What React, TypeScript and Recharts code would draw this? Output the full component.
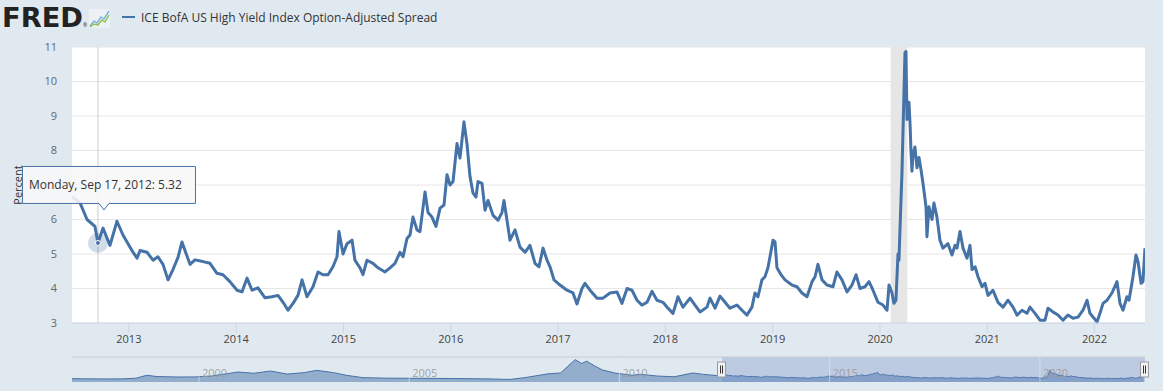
import React from 'react';
import {
  LineChart,
  Line,
  AreaChart,
  Area,
  XAxis,
  YAxis,
  CartesianGrid,
  ReferenceArea,
  ReferenceLine,
  ReferenceDot,
} from 'recharts';

const BLUE = '#4572a7';
const FONT = '"Open Sans", sans-serif';

const seriesName = 'ICE BofA US High Yield Index Option-Adjusted Spread';
const yearTicks = [2013, 2014, 2015, 2016, 2017, 2018, 2019, 2020, 2021, 2022];
const percentTicks = [3, 4, 5, 6, 7, 8, 9, 10, 11];
const navLabels = [2000, 2005, 2010, 2015, 2020];

// visible window (decimal years)
const viewStart = 2012.47;
const viewEnd = 2022.47;
const recessionStart = 2020.1;
const recessionEnd = 2020.255;

// hovered point (its tooltip hides the "7" tick label)
const hoverYear = 2012.712;
const hoverValue = 5.32;
const hoverLabel = 'Monday, Sep 17, 2012';
const coveredTick = 7;

// spread, percent, decimal years
const mainYears = [
  2012.47, 2012.545, 2012.61, 2012.684, 2012.712, 2012.759, 2012.824, 2012.889, 2012.945, 2012.992,
  2013.029, 2013.076, 2013.104, 2013.169, 2013.225, 2013.271, 2013.318, 2013.365, 2013.411, 2013.458,
  2013.495, 2013.523, 2013.57, 2013.616, 2013.691, 2013.756, 2013.821, 2013.877, 2013.942,
  2014.008, 2014.054, 2014.101, 2014.148, 2014.203, 2014.269, 2014.334, 2014.39, 2014.437, 2014.483,
  2014.53, 2014.576, 2014.614, 2014.66, 2014.716, 2014.763, 2014.809, 2014.856, 2014.902, 2014.94,
  2014.958, 2014.996,
  2015.033, 2015.08, 2015.107, 2015.154, 2015.182, 2015.219, 2015.275, 2015.322, 2015.387, 2015.434,
  2015.48, 2015.527, 2015.555, 2015.592, 2015.62, 2015.648, 2015.685, 2015.713, 2015.76, 2015.788,
  2015.825, 2015.862, 2015.9, 2015.937, 2015.965, 2015.993,
  2016.021, 2016.058, 2016.086, 2016.123, 2016.151, 2016.179, 2016.207, 2016.235, 2016.254, 2016.291,
  2016.319, 2016.347, 2016.394, 2016.44, 2016.477, 2016.496, 2016.524, 2016.552, 2016.599, 2016.645,
  2016.692, 2016.738, 2016.785, 2016.822, 2016.86, 2016.897, 2016.925, 2016.962,
  2017.018, 2017.083, 2017.139, 2017.176, 2017.223, 2017.251, 2017.298, 2017.363, 2017.419, 2017.484,
  2017.549, 2017.596, 2017.643, 2017.689, 2017.736, 2017.782, 2017.829, 2017.875, 2017.922, 2017.978,
  2018.024, 2018.071, 2018.118, 2018.164, 2018.23, 2018.276, 2018.323, 2018.388, 2018.416, 2018.463,
  2018.509, 2018.556, 2018.602, 2018.667, 2018.714, 2018.761, 2018.807, 2018.835, 2018.863, 2018.9,
  2018.928, 2018.956, 2018.975,
  2019.003, 2019.022, 2019.04, 2019.078, 2019.115, 2019.18, 2019.227, 2019.273, 2019.32, 2019.367,
  2019.395, 2019.422, 2019.46, 2019.506, 2019.562, 2019.599, 2019.646, 2019.693, 2019.739, 2019.777,
  2019.814, 2019.86, 2019.898, 2019.935, 2019.982,
  2020.028, 2020.066, 2020.084, 2020.112, 2020.13, 2020.149, 2020.168, 2020.177, 2020.196, 2020.205,
  2020.215, 2020.233, 2020.242, 2020.252, 2020.27, 2020.28, 2020.289, 2020.298, 2020.308, 2020.326,
  2020.345, 2020.364, 2020.382, 2020.401, 2020.429, 2020.438, 2020.457, 2020.485, 2020.503, 2020.531,
  2020.559, 2020.587, 2020.634, 2020.671, 2020.699, 2020.718, 2020.746, 2020.774, 2020.811, 2020.839,
  2020.858, 2020.886, 2020.914, 2020.951, 2020.979,
  2021.007, 2021.053, 2021.1, 2021.147, 2021.193, 2021.24, 2021.277, 2021.324, 2021.37, 2021.398,
  2021.445, 2021.491, 2021.538, 2021.566, 2021.613, 2021.659, 2021.706, 2021.752, 2021.799, 2021.846,
  2021.892, 2021.93, 2021.957, 2021.995,
  2022.023, 2022.05, 2022.079, 2022.116, 2022.162, 2022.209, 2022.237, 2022.265, 2022.302, 2022.321,
  2022.358, 2022.386, 2022.405, 2022.433, 2022.451, 2022.47,
];

const mainSpread = [
  6.66, 6.48, 6.0, 5.8, 5.32, 5.75, 5.25, 5.95, 5.55, 5.3,
  5.1, 4.88, 5.1, 5.05, 4.82, 4.92, 4.7, 4.25, 4.55, 4.9,
  5.35, 5.1, 4.7, 4.83, 4.78, 4.73, 4.44, 4.4, 4.2,
  3.95, 3.9, 4.3, 3.95, 4.02, 3.73, 3.76, 3.8, 3.6, 3.37,
  3.57, 3.8, 4.25, 3.76, 4.05, 4.48, 4.4, 4.4, 4.63, 4.92,
  5.65, 5.0,
  5.3, 5.4, 4.82, 4.6, 4.4, 4.82, 4.73, 4.6, 4.48, 4.6,
  4.73, 5.05, 4.92, 5.45, 5.55, 6.07, 5.7, 5.65, 6.8, 6.2,
  6.07, 5.8, 6.33, 6.42, 7.3, 7.0,
  7.1, 8.2, 7.78, 8.83, 8.2, 7.25, 6.77, 6.65, 7.1, 7.05,
  6.27, 6.55, 6.12, 5.98, 6.2, 6.55, 5.98, 5.4, 5.7, 5.2,
  5.05, 5.25, 4.73, 4.63, 5.17, 4.82, 4.63, 4.25,
  4.1, 3.95, 3.87, 3.55, 4.0, 4.15, 3.95, 3.72, 3.72, 3.87,
  3.9, 3.57, 4.0, 3.95, 3.66, 3.52, 3.6, 3.92, 3.66, 3.6,
  3.43, 3.28, 3.76, 3.46, 3.72, 3.52, 3.32, 3.46, 3.72, 3.43,
  3.78, 3.6, 3.43, 3.52, 3.37, 3.23, 3.46, 3.87, 3.76, 4.25,
  4.34, 4.6, 4.92,
  5.4, 5.35, 4.6, 4.4, 4.25, 4.1, 4.05, 3.87, 3.76, 4.2,
  4.34, 4.7, 4.25, 4.1, 4.05, 4.48, 4.25, 3.9, 4.1, 4.4,
  4.0, 4.05, 4.2, 3.95, 3.6,
  3.52, 3.37, 4.1, 3.87, 3.57, 3.66, 5.0, 4.82, 6.57, 7.35,
  8.6, 10.83, 10.87, 8.9, 9.4, 8.8, 8.0, 7.4, 7.9, 8.1,
  7.5, 7.8, 7.45, 7.05, 6.37, 5.5, 6.37, 6.0, 6.48, 6.07,
  5.4, 5.17, 5.3, 4.97, 5.25, 5.17, 5.65, 5.17, 4.88, 5.25,
  4.55, 4.63, 4.34, 4.05, 4.15,
  3.8, 3.95, 3.6, 3.46, 3.66, 3.46, 3.23, 3.37, 3.28, 3.46,
  3.28, 3.08, 3.08, 3.43, 3.32, 3.23, 3.08, 3.23, 3.14, 3.17,
  3.37, 3.66, 3.28, 3.14,
  3.03, 3.28, 3.57, 3.66, 3.87, 4.2, 3.57, 3.37, 3.76, 3.66,
  4.34, 4.97, 4.78, 4.15, 4.2, 5.17,
];

// longer history shown in the navigator, before the visible window
const historyYears = [
  1996.98, 1997.3, 1997.8, 1998.2, 1998.5, 1998.76, 1999.0, 1999.5, 1999.9, 2000.3,
  2000.93, 2001.3, 2001.7, 2002.1, 2002.5, 2002.8, 2003.2, 2003.5, 2003.9, 2004.5,
  2005.3, 2006.0, 2006.8, 2007.4, 2007.75, 2008.3, 2008.6, 2008.8, 2008.95, 2009.1,
  2009.22, 2009.4, 2009.6, 2009.9, 2010.3, 2010.5, 2010.9, 2011.3, 2011.75, 2012.0,
  2012.3,
];
const historySpread = [
  3.1, 2.9, 2.8, 2.9, 3.5, 6.2, 5.0, 4.6, 4.7, 5.5,
  9.2, 8.0, 10.1, 7.3, 8.6, 10.7, 8.6, 6.2, 4.0, 3.5,
  3.4, 3.2, 2.9, 2.4, 4.0, 7.5, 8.3, 15.4, 20.6, 17.0,
  19.2, 15.0, 11.0, 8.2, 6.2, 7.0, 5.5, 4.8, 8.3, 7.0,
  6.0,
];

const mainData = mainYears.map((t, i) => ({ t, v: mainSpread[i] }));
const navData = historyYears
  .map((t, i) => ({ t, v: historySpread[i] }))
  .concat(mainData);

const PercentTick = (p: any) => {
  if (p.payload.value === coveredTick) return <g />;
  return (
    <text x={p.x} y={p.y} dy="0.355em" textAnchor="end" fill="#666" fontSize={11} fontFamily={FONT}>
      {p.payload.value}
    </text>
  );
};

const HoverMark = (p: any) => {
  const cx = p.cx;
  const cy = p.cy;
  const bx = cx - 76;
  const by = cy - 77;
  const bw = 173;
  const bh = 37;
  const px = cx + 6;
  return (
    <g>
      <circle cx={cx} cy={cy} r={10} fill={BLUE} fillOpacity={0.25} />
      <circle cx={cx} cy={cy} r={2.5} fill={BLUE} stroke="#fff" strokeWidth={1} />
      <path
        d={`M${bx + 0.5},${by + 0.5}H${bx + bw + 0.5}V${by + bh + 0.5}H${px + 5}L${px},${cy - 33}L${px - 5},${by + bh + 0.5}H${bx + 0.5}Z`}
        fill="rgba(247,247,247,0.88)"
        stroke={BLUE}
        strokeWidth={1}
      />
      <text x={bx + 7} y={by + 23} fontSize={12} fill="#333" fontFamily={FONT}>
        {hoverLabel}: {hoverValue.toFixed(2)}
      </text>
    </g>
  );
};

const Handle = (p: any) => {
  const { cx, cy } = p;
  return (
    <g>
      <rect x={cx - 4.5} y={cy - 7.5} width={8} height={15} fill="#f2f2f2" stroke="#999" strokeWidth={1} />
      <line x1={cx - 1.5} x2={cx - 1.5} y1={cy - 4} y2={cy + 4} stroke="#333" strokeWidth={1} />
      <line x1={cx + 0.5} x2={cx + 0.5} y1={cy - 4} y2={cy + 4} stroke="#333" strokeWidth={1} />
    </g>
  );
};

const NavLabel = (p: any) => (
  <text x={p.cx + 3} y={p.cy - 5} fill="#999" fillOpacity={0.9} fontSize={11} fontFamily={FONT}>
    {p.label}
  </text>
);

const Header = () => (
  <svg width={1163} height={40} style={{ position: 'absolute', left: 0, top: 0 }}>
    <text x={2} y={27} fontFamily='"DejaVu Sans", sans-serif' fontWeight="bold" fontSize={26} fill="#222" textLength={81} lengthAdjust="spacingAndGlyphs">
      FRED
    </text>
    <text x={83} y={27} fontFamily={FONT} fontSize={5} fill="#222">®</text>
    <rect x={89} y={9} width={21} height={19} fill="#eef1f4" />
    <polyline points="90,26 94,21 97,23 101,17 104,19 109,11" fill="none" stroke="#7fb4d8" strokeWidth={1.5} />
    <polyline points="90,27 94,24 98,25 102,20 105,22 109,15" fill="none" stroke="#8cc152" strokeWidth={1.5} />
    <line x1={122} x2={135} y1={17} y2={17} stroke={BLUE} strokeWidth={2} />
    <text x={141} y={21.5} fontFamily={FONT} fontSize={12} fill="#333">{seriesName}</text>
  </svg>
);

export default function App() {
  return (
    <div style={{ position: 'absolute', left: 0, top: 0, width: 1163, height: 391, background: '#e1e9f0', fontFamily: FONT, overflow: 'hidden' }}>
      <Header />
      <div style={{ position: 'absolute', left: 0, top: 0 }}>
        <LineChart width={1163} height={391} data={mainData} margin={{ top: 47, right: 18, left: 12, bottom: 38 }}>
          <CartesianGrid vertical={false} stroke="#e6e6e6" fill="#ffffff" fillOpacity={1} />
          <ReferenceArea x1={recessionStart} x2={recessionEnd} y1={3} y2={11} fill="#e6e6e6" fillOpacity={1} stroke="none" />
          <ReferenceLine x={hoverYear} stroke="#cccccc" strokeWidth={1} />
          <XAxis
            dataKey="t"
            type="number"
            domain={[viewStart, viewEnd]}
            ticks={yearTicks}
            tickFormatter={(t: number) => String(t)}
            height={30}
            tickSize={10}
            tickMargin={2}
            axisLine={{ stroke: '#ccd6eb' }}
            tickLine={{ stroke: '#ccd6eb' }}
            tick={{ fill: '#444', fontSize: 11, fontFamily: FONT }}
            allowDataOverflow
          />
          <YAxis
            type="number"
            domain={[3, 11]}
            ticks={percentTicks}
            width={60}
            axisLine={false}
            tickLine={false}
            tickSize={0}
            tickMargin={15}
            tick={PercentTick}
            label={{ value: 'Percent', angle: -90, position: 'insideLeft', offset: 6, style: { textAnchor: 'middle', fill: '#333', fontSize: 11, fontFamily: FONT } }}
          />
          <Line type="linear" dataKey="v" stroke={BLUE} strokeWidth={3} dot={false} isAnimationActive={false} strokeLinejoin="round" />
          <ReferenceDot x={hoverYear} y={hoverValue} r={10} shape={HoverMark} />
        </LineChart>
      </div>
      <div style={{ position: 'absolute', left: 0, top: 0, pointerEvents: 'none' }}>
        <AreaChart width={1163} height={391} data={navData} margin={{ top: 357, right: 18, left: 72, bottom: 9 }}>
          <XAxis dataKey="t" type="number" domain={[1996.98, 2022.5]} hide />
          <YAxis type="number" domain={[0, 23]} hide />
          {navLabels.map((yr) => (
            <ReferenceLine key={`l${yr}`} x={yr} stroke="#e6ebf0" strokeOpacity={0.6} strokeWidth={1} />
          ))}
          <Area type="linear" dataKey="v" stroke={BLUE} strokeWidth={1} fill={BLUE} fillOpacity={0.5} isAnimationActive={false} />
          <ReferenceArea x1={2012.44} x2={2022.5} y1={0} y2={23} fill="rgba(102,133,194,0.3)" fillOpacity={1} stroke="none" />
          {navLabels.map((yr) => (
            <ReferenceDot key={`t${yr}`} x={yr} y={0} r={1} shape={(p: any) => <NavLabel {...p} label={String(yr)} />} />
          ))}
          <ReferenceLine y={23} stroke="#cccccc" strokeWidth={1} />
          <ReferenceDot x={2012.44} y={11.5} r={5} shape={Handle} />
          <ReferenceDot x={2022.5} y={11.5} r={5} shape={Handle} />
        </AreaChart>
      </div>
    </div>
  );
}
